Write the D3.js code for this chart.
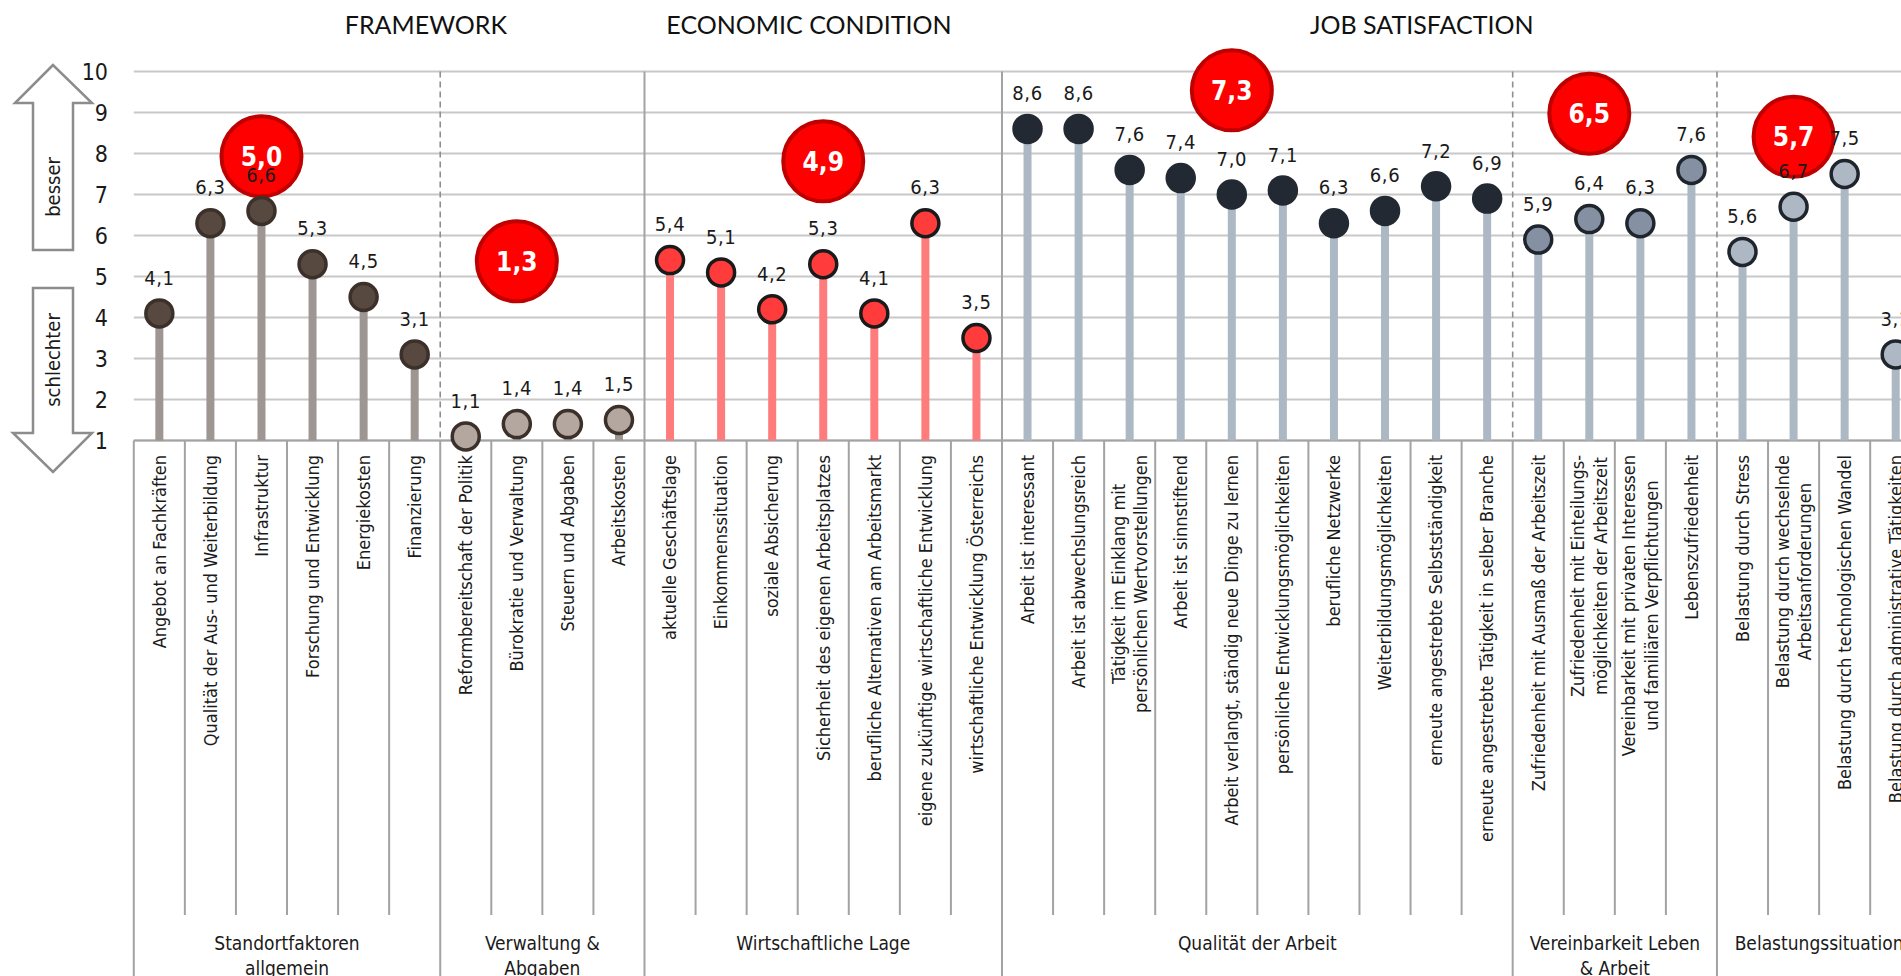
<!DOCTYPE html>
<html>
<head>
<meta charset="utf-8">
<script src="https://cdn.jsdelivr.net/npm/d3@7"></script>
<style>
  html, body { margin: 0; padding: 0; background: #fff; overflow: hidden; }
  svg { display: block; }
  .lbl { font-family: "DejaVu Sans Condensed", "DejaVu Sans", sans-serif; font-stretch: condensed; fill: #1a1a1a; }
  .head { font-family: Lato, "Open Sans", sans-serif; fill: #111; }
</style>
</head>
<body>
<svg id="chart" width="1901" height="976"></svg>
<script>
// items (x axis), one per lollipop
var categories = [
  "Angebot an Fachkräften", "Qualität der Aus- und Weiterbildung", "Infrastruktur",
  "Forschung und Entwicklung", "Energiekosten", "Finanzierung",
  "Reformbereitschaft der Politik", "Bürokratie und Verwaltung", "Steuern und Abgaben", "Arbeitskosten",
  "aktuelle Geschäftslage", "Einkommenssituation", "soziale Absicherung",
  "Sicherheit des eigenen Arbeitsplatzes", "berufliche Alternativen am Arbeitsmarkt",
  "eigene zukünftige wirtschaftliche Entwicklung", "wirtschaftliche Entwicklung Österreichs",
  "Arbeit ist interessant", "Arbeit ist abwechslungsreich",
  "Tätigkeit im Einklang mit\npersönlichen Wertvorstellungen", "Arbeit ist sinnstiftend",
  "Arbeit verlangt, ständig neue Dinge zu lernen", "persönliche Entwicklungsmöglichkeiten",
  "berufliche Netzwerke", "Weiterbildungsmöglichkeiten", "erneute angestrebte Selbstständigkeit",
  "erneute angestrebte Tätigkeit in selber Branche",
  "Zufriedenheit mit Ausmaß der Arbeitszeit", "Zufriedenheit mit Einteilungs-\nmöglichkeiten der Arbeitszeit",
  "Vereinbarkeit mit privaten Interessen\nund familiären Verpflichtungen", "Lebenszufriedenheit",
  "Belastung durch Stress", "Belastung durch wechselnde\nArbeitsanforderungen",
  "Belastung durch technologischen Wandel", "Belastung durch administrative Tätigkeiten"
];
var values = [
  4.1, 6.3, 6.6, 5.3, 4.5, 3.1,
  1.1, 1.4, 1.4, 1.5,
  5.4, 5.1, 4.2, 5.3, 4.1, 6.3, 3.5,
  8.6, 8.6, 7.6, 7.4, 7.0, 7.1, 6.3, 6.6, 7.2, 6.9,
  5.9, 6.4, 6.3, 7.6,
  5.6, 6.7, 7.5, 3.1
];

// sub-groups along the bottom and their average (red bubbles)
var subgroupNames = ["Standortfaktoren\nallgemein", "Verwaltung &\nAbgaben", "Wirtschaftliche Lage",
  "Qualität der Arbeit", "Vereinbarkeit Leben\n& Arbeit", "Belastungssituation"];
var subgroupSizes = [6, 4, 7, 10, 4, 4];
var subgroupMeans = [5.0, 1.3, 4.9, 7.3, 6.5, 5.7];

var headers = ["FRAMEWORK", "ECONOMIC CONDITION", "JOB SATISFACTION"];
var yTicks = [1, 2, 3, 4, 5, 6, 7, 8, 9, 10];

// look per sub-group
var stemColors = ["#9d9692", "#9d9692", "#ff7c7c", "#adb8c5", "#adb8c5", "#adb8c5"];
var dotFills   = ["#574840", "#b4a79f", "#ff3b3b", "#232932", "#8591a2", "#aeb8c5"];
var dotStrokes = ["#3b302a", "#3b302a", "#1a1a1a", "#232932", "#1f252c", "#1f252c"];

// ---- layout
var svg = d3.select("#chart");
var x0 = 133.8, step = 51.07;
var x = d3.scaleBand().domain(d3.range(categories.length))
    .range([x0, x0 + step * categories.length]).paddingInner(0).paddingOuter(0);
var y = d3.scaleLinear().domain([1, 10]).range([440.5, 71.5]);
var xAt = function(i){ return x0 + i * step; };   // fractional position along the items

// which sub-group each item belongs to
var groupIdx = [];
subgroupSizes.forEach(function(n, g){ for (var k = 0; k < n; k++) groupIdx.push(g); });
var starts = [0];
subgroupSizes.forEach(function(n, g){ starts.push(starts[g] + n); });

// gridlines
svg.append("g").selectAll("line").data(yTicks).enter().append("line")
    .attr("x1", x0).attr("x2", 1901)
    .attr("y1", function(d){ return y(d); }).attr("y2", function(d){ return y(d); })
    .attr("stroke", "#c8c8c8").attr("stroke-width", 2);

// y axis tick labels
svg.append("g").selectAll("text").data(yTicks).enter().append("text")
    .attr("class", "lbl")
    .attr("x", 108).attr("y", function(d){ return y(d); })
    .attr("dy", "0.36em").attr("text-anchor", "end")
    .style("font-size", "23px")
    .text(function(d){ return d; });

// separators inside the plot: solid between header blocks, dashed inside them
var solidAt = [10, 17];
var dashedAt = [6, 27, 31];
svg.append("g").selectAll("line").data(solidAt).enter().append("line")
    .attr("x1", xAt).attr("x2", xAt).attr("y1", y(10)).attr("y2", y(1))
    .attr("stroke", "#a3a3a3").attr("stroke-width", 2);
svg.append("g").selectAll("line").data(dashedAt).enter().append("line")
    .attr("x1", xAt).attr("x2", xAt).attr("y1", y(10)).attr("y2", y(1))
    .attr("stroke", "#8f8f8f").attr("stroke-width", 1.6).attr("stroke-dasharray", "6,4");

// category table below the axis
var bounds = d3.range(categories.length + 1);
svg.append("g").selectAll("line").data(bounds).enter().append("line")
    .attr("x1", xAt).attr("x2", xAt).attr("y1", y(1))
    .attr("y2", function(d){ return starts.indexOf(d) >= 0 ? 976 : 915; })
    .attr("stroke", "#a3a3a3").attr("stroke-width", 2);
svg.append("line").attr("x1", x0).attr("x2", 1901).attr("y1", y(1)).attr("y2", y(1))
    .attr("stroke", "#a3a3a3").attr("stroke-width", 2);

// rotated item labels
var catText = svg.append("g").selectAll("text").data(categories).enter().append("text")
    .attr("class", "lbl")
    .style("font-size", "18px")
    .attr("text-anchor", "middle")
    .attr("transform", function(d, i){ return "translate(" + (x(i) + x.bandwidth() / 2) + ",455) rotate(-90)"; });
catText.each(function(d){
  var t = d3.select(this), lines = d.split("\n"), lh = 22.5;
  var spans = lines.map(function(s, k){
    return t.append("tspan").attr("y", (k - (lines.length - 1) / 2) * lh).attr("dy", "0.35em").text(s);
  });
  var maxLen = d3.max(spans, function(s){ return s.node().getComputedTextLength(); });
  spans.forEach(function(s){ s.attr("x", -maxLen / 2); });
});

// sub-group names
svg.append("g").selectAll("text").data(subgroupNames).enter().append("text")
    .attr("class", "lbl")
    .style("font-size", "19px")
    .attr("text-anchor", "middle")
    .each(function(d, g){
      var t = d3.select(this), cx = (xAt(starts[g]) + xAt(starts[g + 1])) / 2;
      d.split("\n").forEach(function(s, k){
        t.append("tspan").attr("x", cx).attr("y", 943 + k * 25).attr("dy", "0.35em").text(s);
      });
    });

// headers
var headerAt = [5.72, 13.22, 25.22];
svg.append("g").selectAll("text").data(headers).enter().append("text")
    .attr("class", "head")
    .attr("x", function(d, i){ return xAt(headerAt[i]); })
    .attr("y", 34).attr("text-anchor", "middle")
    .style("font-size", "25px")
    .text(function(d){ return d; });

// better / worse arrows
var arrows = svg.append("g").attr("fill", "#fff").attr("stroke", "#8c8c8c").attr("stroke-width", 2.5);
arrows.append("polygon").attr("points", "53,65 15,103 33,103 33,250 73,250 73,103 92,103");
arrows.append("polygon").attr("points", "33,288 73,288 73,433 92,433 53,472 13,433 33,433");
svg.append("text").attr("class", "lbl").style("font-size", "20px").attr("text-anchor", "middle")
    .attr("transform", "translate(53,187) rotate(-90)").attr("dy", "0.35em").text("besser");
svg.append("text").attr("class", "lbl").style("font-size", "20px").attr("text-anchor", "middle")
    .attr("transform", "translate(53,360) rotate(-90)").attr("dy", "0.35em").text("schlechter");

// stems
svg.append("g").selectAll("line").data(values).enter().append("line")
    .attr("x1", function(d, i){ return x(i) + x.bandwidth() / 2; })
    .attr("x2", function(d, i){ return x(i) + x.bandwidth() / 2; })
    .attr("y1", function(d){ return y(d); }).attr("y2", y(1))
    .attr("stroke", function(d, i){ return stemColors[groupIdx[i]]; })
    .attr("stroke-width", 8);

// average bubbles
var bubbleSpot = [[2, 7.93], [7, 5.37], [13, 7.81], [21, 9.54], [28, 8.97], [32, 8.41]];
var bub = svg.append("g").selectAll("g").data(subgroupMeans).enter().append("g")
    .attr("transform", function(d, g){
      return "translate(" + (x(bubbleSpot[g][0]) + x.bandwidth() / 2) + "," + y(bubbleSpot[g][1]) + ")";
    });
bub.append("circle").attr("r", 40).attr("fill", "#ff0000").attr("stroke", "#bf0000").attr("stroke-width", 4);
bub.append("text").attr("class", "lbl").attr("text-anchor", "middle").attr("dy", "0.36em")
    .style("font-size", "26px").style("font-weight", "bold").style("fill", "#fff")
    .text(function(d){ return d3.format(".1f")(d).replace(".", ","); });

// dots
svg.append("g").selectAll("circle").data(values).enter().append("circle")
    .attr("cx", function(d, i){ return x(i) + x.bandwidth() / 2; })
    .attr("cy", function(d){ return y(d); })
    .attr("r", 13.5)
    .attr("fill", function(d, i){ return dotFills[groupIdx[i]]; })
    .attr("stroke", function(d, i){ return dotStrokes[groupIdx[i]]; })
    .attr("stroke-width", 3.5);

// value labels
svg.append("g").selectAll("text").data(values).enter().append("text")
    .attr("class", "lbl")
    .attr("x", function(d, i){ return x(i) + x.bandwidth() / 2; })
    .attr("y", function(d){ return y(d) - 36; })
    .attr("dy", "0.36em").attr("text-anchor", "middle")
    .style("font-size", "20px").style("letter-spacing", "0.6px")
    .text(function(d){ return d3.format(".1f")(d).replace(".", ","); });
</script>
</body>
</html>
